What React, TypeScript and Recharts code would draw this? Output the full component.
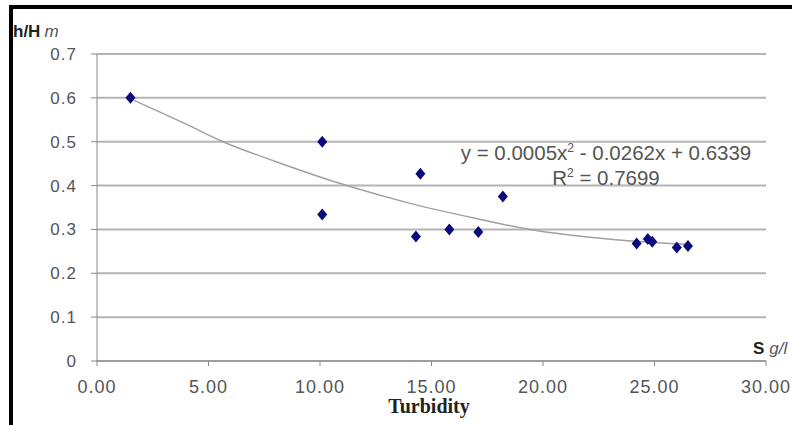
import { ComposedChart, Scatter, Line, XAxis, YAxis, CartesianGrid } from 'recharts'

// measured points (turbidity S g/l vs h/H)
const turbidity = [1.5, 10.1, 10.1, 14.3, 14.5, 15.8, 17.1, 18.2, 24.2, 24.7, 24.9, 26.0, 26.5]
const ratio = [0.6, 0.5, 0.334, 0.284, 0.427, 0.3, 0.294, 0.375, 0.268, 0.278, 0.272, 0.259, 0.262]

// trend curve
const trendX = [1.5, 4, 5.65, 8, 11.2, 14, 17, 19.4, 22, 24.5, 26.5]
const trendY = [0.598, 0.54, 0.5, 0.455, 0.4, 0.36, 0.325, 0.3, 0.283, 0.272, 0.266]

const xTicks = [0, 5, 10, 15, 20, 25, 30]
const yTicks = [0, 0.1, 0.2, 0.3, 0.4, 0.5, 0.6, 0.7]

const points = turbidity.map((x, i) => ({ x, y: ratio[i] }))
const trend = trendX.map((x, i) => ({ x, y: trendY[i] }))

const font = '"Liberation Sans", Arial, sans-serif'

const Diamond = (props: any) => {
  const { cx, cy } = props
  if (cx == null || cy == null) return null
  return (
    <polygon
      points={`${cx},${cy - 6} ${cx + 5},${cy} ${cx},${cy + 6} ${cx - 5},${cy}`}
      fill="#0a0a7a"
    />
  )
}

export default function App() {
  return (
    <div style={{ position: 'absolute', left: 0, top: 0, width: 792, height: 425, background: '#fff' }}>
      <div style={{ position: 'absolute', left: 9, top: 5, width: 783, height: 4, background: '#000' }} />
      <div style={{ position: 'absolute', left: 9, top: 5, width: 4, height: 420, background: '#000' }} />
      <ComposedChart
        width={792}
        height={425}
        margin={{ top: 54, right: 26, bottom: 34, left: 0 }}
        style={{ fontFamily: font }}
      >
        <CartesianGrid vertical={false} stroke="#b4b4b4" strokeWidth={2} />
        <XAxis
          type="number"
          dataKey="x"
          domain={[0, 30]}
          ticks={xTicks}
          tickFormatter={(v: number) => v.toFixed(2)}
          height={30}
          tickSize={5}
          tickMargin={14}
          stroke="#888"
          tick={{ fill: '#555', fontSize: 18, letterSpacing: 1 }}
          interval={0}
        />
        <YAxis
          type="number"
          dataKey="y"
          domain={[0, 0.7]}
          ticks={yTicks}
          tickFormatter={(v: number) => (v === 0 ? '0' : v.toFixed(1))}
          width={97}
          tickSize={6}
          tickMargin={14}
          stroke="#888"
          tick={{ fill: '#555', fontSize: 17, letterSpacing: 1 }}
          interval={0}
        />
        <Line
          data={trend}
          dataKey="y"
          type="monotone"
          stroke="#a0a0a0"
          strokeWidth={1.5}
          dot={false}
          activeDot={false}
          isAnimationActive={false}
        />
        <Scatter data={points} dataKey="y" shape={<Diamond />} isAnimationActive={false} />
        <text x={13} y={37} fontSize={17} fontFamily={font} fill="#222">
          <tspan fontWeight="bold">h/H</tspan>
          <tspan fontStyle="italic" fill="#555" dx={4}>m</tspan>
        </text>
        <text x={753} y={354} fontSize={17} fontFamily={font} fill="#222">
          <tspan fontWeight="bold">S</tspan>
          <tspan fontStyle="italic" fill="#555" dx={5}>g/l</tspan>
        </text>
        <text x={429} y={413} textAnchor="middle" fontSize={20} fontWeight="bold" fontFamily='"Liberation Serif", "Times New Roman", serif' fill="#222">
          Turbidity
        </text>
        <text x={606} y={160} textAnchor="middle" fontSize={20.5} fontFamily={font} fill="#555">
          y = 0.0005x<tspan fontSize={12} dy={-8}>2</tspan>
          <tspan dy={8}> - 0.0262x + 0.6339</tspan>
        </text>
        <text x={606} y={185} textAnchor="middle" fontSize={20.5} fontFamily={font} fill="#555">
          R<tspan fontSize={12} dy={-8}>2</tspan>
          <tspan dy={8}> = 0.7699</tspan>
        </text>
      </ComposedChart>
    </div>
  )
}
